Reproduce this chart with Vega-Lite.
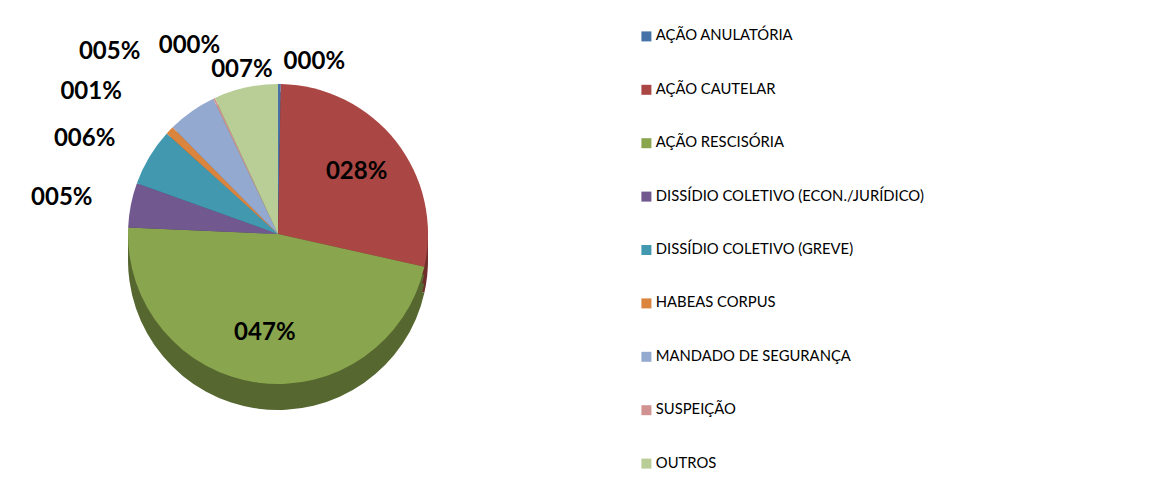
{
  "$schema": "https://vega.github.io/schema/vega-lite/v6.json",
  "width": 556,
  "height": 462,
  "padding": 0,
  "background": "white",
  "config": {"view": {"stroke": null}},
  "data": {"values": [
    {"cat": "AÇÃO ANULATÓRIA", "value": 0.003, "ord": 1},
    {"cat": "AÇÃO CAUTELAR", "value": 0.282, "ord": 2},
    {"cat": "AÇÃO RESCISÓRIA", "value": 0.472, "ord": 3},
    {"cat": "DISSÍDIO COLETIVO (ECON./JURÍDICO)", "value": 0.048, "ord": 4},
    {"cat": "DISSÍDIO COLETIVO (GREVE)", "value": 0.062, "ord": 5},
    {"cat": "HABEAS CORPUS", "value": 0.009, "ord": 6},
    {"cat": "MANDADO DE SEGURANÇA", "value": 0.053, "ord": 7},
    {"cat": "SUSPEIÇÃO", "value": 0.002, "ord": 8},
    {"cat": "OUTROS", "value": 0.069, "ord": 9}
  ]},
  "encoding": {
    "theta": {"field": "value", "type": "quantitative", "stack": true},
    "order": {"field": "ord", "type": "quantitative"}
  },
  "layer": [
    {
      "mark": {"type": "arc", "radius": 150, "yOffset": 26, "stroke": null},
      "encoding": {"color": {"field": "cat", "type": "nominal", "legend": null,
        "scale": {"domain": ["AÇÃO ANULATÓRIA","AÇÃO CAUTELAR","AÇÃO RESCISÓRIA","DISSÍDIO COLETIVO (ECON./JURÍDICO)","DISSÍDIO COLETIVO (GREVE)","HABEAS CORPUS","MANDADO DE SEGURANÇA","SUSPEIÇÃO","OUTROS"],
          "range": ["#2D4A6D","#6F2E2C","#56672F","#49395D","#2A6372","#8E5628","#606E87","#88605F","#788562"]}}}
    },
    {
      "mark": {"type": "arc", "radius": 150, "yOffset": 17, "stroke": null},
      "encoding": {"color": {"field": "cat", "type": "nominal", "legend": null,
        "scale": {"domain": ["AÇÃO ANULATÓRIA","AÇÃO CAUTELAR","AÇÃO RESCISÓRIA","DISSÍDIO COLETIVO (ECON./JURÍDICO)","DISSÍDIO COLETIVO (GREVE)","HABEAS CORPUS","MANDADO DE SEGURANÇA","SUSPEIÇÃO","OUTROS"],
          "range": ["#2D4A6D","#6F2E2C","#56672F","#49395D","#2A6372","#8E5628","#606E87","#88605F","#788562"]}}}
    },
    {
      "mark": {"type": "arc", "radius": 150, "yOffset": 8, "stroke": null},
      "encoding": {"color": {"field": "cat", "type": "nominal", "legend": null,
        "scale": {"domain": ["AÇÃO ANULATÓRIA","AÇÃO CAUTELAR","AÇÃO RESCISÓRIA","DISSÍDIO COLETIVO (ECON./JURÍDICO)","DISSÍDIO COLETIVO (GREVE)","HABEAS CORPUS","MANDADO DE SEGURANÇA","SUSPEIÇÃO","OUTROS"],
          "range": ["#2D4A6D","#6F2E2C","#56672F","#49395D","#2A6372","#8E5628","#606E87","#88605F","#788562"]}}}
    },
    {
      "mark": {"type": "arc", "radius": 150, "stroke": null},
      "encoding": {"color": {"field": "cat", "type": "nominal",
        "scale": {"domain": ["AÇÃO ANULATÓRIA","AÇÃO CAUTELAR","AÇÃO RESCISÓRIA","DISSÍDIO COLETIVO (ECON./JURÍDICO)","DISSÍDIO COLETIVO (GREVE)","HABEAS CORPUS","MANDADO DE SEGURANÇA","SUSPEIÇÃO","OUTROS"],
          "range": ["#4572A7","#AA4643","#89A54E","#71588F","#4198AF","#DB843D","#93A9CF","#D19392","#B9CD96"]},
        "legend": {"title": null, "orient": "none", "legendX": 639, "legendY": 26, "padding": 0,
          "symbolType": "square", "symbolSize": 100, "symbolStrokeWidth": 0, "symbolOpacity": 1,
          "labelFont": "Lato", "labelFontSize": 14.8, "labelColor": "#000000", "labelOffset": 2,
          "labelLimit": 500, "rowPadding": 37.4}}}
    },
    {
      "mark": {"type": "text", "radius": 100, "font": "Lato", "fontWeight": "bold", "fontSize": 24, "color": "#000000", "baseline": "middle"},
      "encoding": {"text": {"condition": {"test": "datum.ord == 2 || datum.ord == 3", "field": "value", "type": "quantitative", "format": "04.0%"}, "value": ""}}
    },
    {
      "mark": {"type": "text", "radius": 172, "align": "left", "dx": 4, "font": "Lato", "fontWeight": "bold", "fontSize": 24, "color": "#000000", "baseline": "middle"},
      "encoding": {"text": {"condition": {"test": "datum.ord == 1", "field": "value", "type": "quantitative", "format": "04.0%"}, "value": ""}}
    },
    {
      "mark": {"type": "text", "radius": 168, "font": "Lato", "fontWeight": "bold", "fontSize": 24, "color": "#000000", "baseline": "middle"},
      "encoding": {"text": {"condition": {"test": "datum.ord == 9", "field": "value", "type": "quantitative", "format": "04.0%"}, "value": ""}}
    },
    {
      "mark": {"type": "text", "radius": 208, "font": "Lato", "fontWeight": "bold", "fontSize": 24, "color": "#000000", "baseline": "middle"},
      "encoding": {"text": {"condition": {"test": "datum.ord == 8", "field": "value", "type": "quantitative", "format": "04.0%"}, "value": ""}}
    },
    {
      "mark": {"type": "text", "radius": 222, "align": "right", "dx": -10, "font": "Lato", "fontWeight": "bold", "fontSize": 24, "color": "#000000", "baseline": "middle"},
      "encoding": {"text": {"condition": {"test": "datum.ord == 7", "field": "value", "type": "quantitative", "format": "04.0%"}, "value": ""}}
    },
    {
      "mark": {"type": "text", "radius": 205, "align": "right", "dx": -8, "font": "Lato", "fontWeight": "bold", "fontSize": 24, "color": "#000000", "baseline": "middle"},
      "encoding": {"text": {"condition": {"test": "datum.ord == 6", "field": "value", "type": "quantitative", "format": "04.0%"}, "value": ""}}
    },
    {
      "mark": {"type": "text", "radius": 185, "align": "right", "dx": -4, "font": "Lato", "fontWeight": "bold", "fontSize": 24, "color": "#000000", "baseline": "middle"},
      "encoding": {"text": {"condition": {"test": "datum.ord == 4 || datum.ord == 5", "field": "value", "type": "quantitative", "format": "04.0%"}, "value": ""}}
    }
  ],
  "resolve": {"scale": {"color": "independent"}}
}
